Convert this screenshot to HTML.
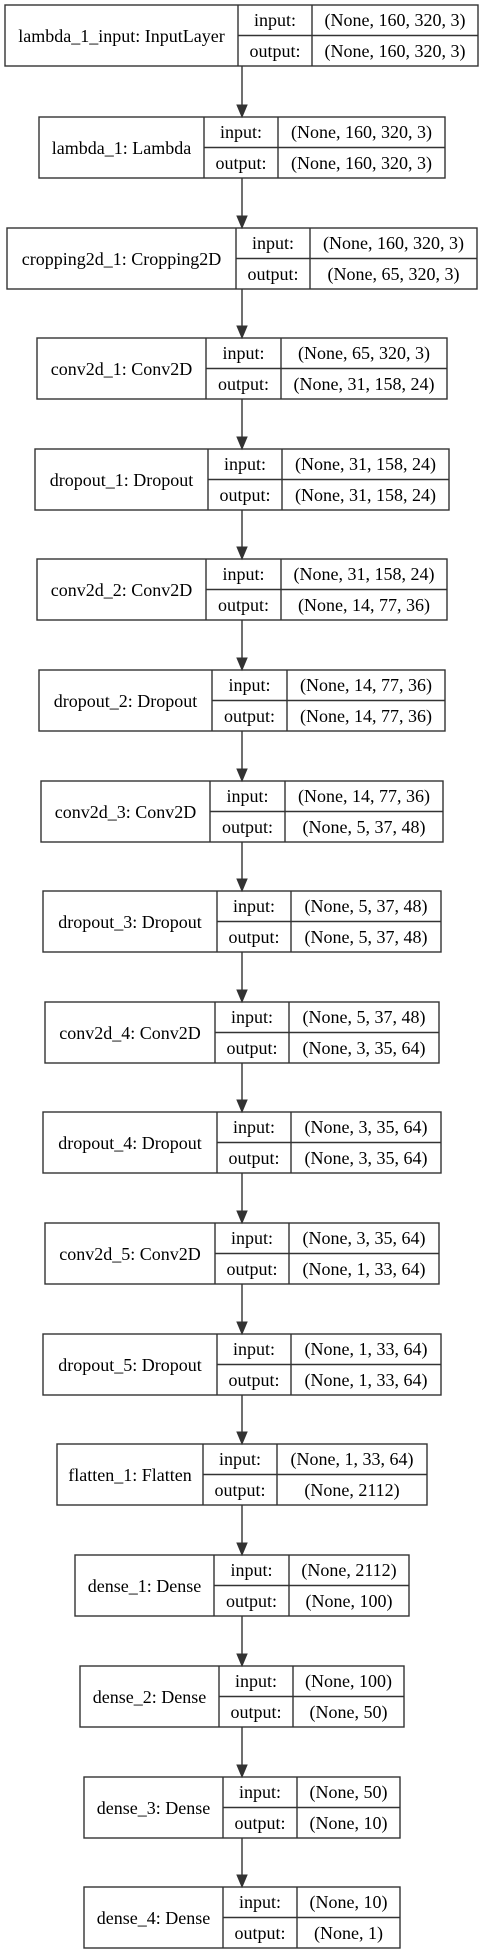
<!DOCTYPE html>
<html><head><meta charset="utf-8"><style>
html,body{margin:0;padding:0;background:#fff;}
svg{display:block;}
text{font-family:"Liberation Serif",serif;font-size:18px;fill:#000;}
.b{fill:#fff;stroke:#333;stroke-width:1.4;}
.l{stroke:#333;stroke-width:1.4;}
.a{fill:#333;stroke:#333;stroke-width:1;}
</style></head><body>
<svg width="484" height="1955" viewBox="0 0 484 1955" xmlns="http://www.w3.org/2000/svg">
<g text-anchor="middle" dominant-baseline="central">
<!-- 1 -->
<rect class="b" x="5" y="5" width="473" height="61"/><line class="l" x1="238" y1="5" x2="238" y2="66"/><line class="l" x1="312" y1="5" x2="312" y2="66"/><line class="l" x1="238" y1="35.5" x2="478" y2="35.5"/>
<text x="121.5" y="36">lambda_1_input: InputLayer</text><text x="275" y="20">input:</text><text x="275" y="51">output:</text><text x="395" y="20">(None, 160, 320, 3)</text><text x="395" y="51">(None, 160, 320, 3)</text>
<!-- 2 -->
<rect class="b" x="39" y="117" width="406" height="61"/><line class="l" x1="204" y1="117" x2="204" y2="178"/><line class="l" x1="278" y1="117" x2="278" y2="178"/><line class="l" x1="204" y1="147.5" x2="445" y2="147.5"/>
<text x="121.5" y="148">lambda_1: Lambda</text><text x="241" y="132">input:</text><text x="241" y="163">output:</text><text x="361.5" y="132">(None, 160, 320, 3)</text><text x="361.5" y="163">(None, 160, 320, 3)</text>
<!-- 3 -->
<rect class="b" x="7" y="228" width="470" height="61"/><line class="l" x1="236" y1="228" x2="236" y2="289"/><line class="l" x1="310" y1="228" x2="310" y2="289"/><line class="l" x1="236" y1="258.5" x2="477" y2="258.5"/>
<text x="121.5" y="259">cropping2d_1: Cropping2D</text><text x="273" y="243">input:</text><text x="273" y="274">output:</text><text x="393.5" y="243">(None, 160, 320, 3)</text><text x="393.5" y="274">(None, 65, 320, 3)</text>
<!-- 4 -->
<rect class="b" x="37" y="338" width="410" height="61"/><line class="l" x1="206" y1="338" x2="206" y2="399"/><line class="l" x1="281" y1="338" x2="281" y2="399"/><line class="l" x1="206" y1="368.5" x2="447" y2="368.5"/>
<text x="121.5" y="369">conv2d_1: Conv2D</text><text x="243.5" y="353">input:</text><text x="243.5" y="384">output:</text><text x="364" y="353">(None, 65, 320, 3)</text><text x="364" y="384">(None, 31, 158, 24)</text>
<!-- 5 -->
<rect class="b" x="35" y="449" width="414" height="61"/><line class="l" x1="208" y1="449" x2="208" y2="510"/><line class="l" x1="282" y1="449" x2="282" y2="510"/><line class="l" x1="208" y1="479.5" x2="449" y2="479.5"/>
<text x="121.5" y="480">dropout_1: Dropout</text><text x="245" y="464">input:</text><text x="245" y="495">output:</text><text x="365.5" y="464">(None, 31, 158, 24)</text><text x="365.5" y="495">(None, 31, 158, 24)</text>
<!-- 6 -->
<rect class="b" x="37" y="559" width="410" height="61"/><line class="l" x1="206" y1="559" x2="206" y2="620"/><line class="l" x1="281" y1="559" x2="281" y2="620"/><line class="l" x1="206" y1="589.5" x2="447" y2="589.5"/>
<text x="121.5" y="590">conv2d_2: Conv2D</text><text x="243.5" y="574">input:</text><text x="243.5" y="605">output:</text><text x="364" y="574">(None, 31, 158, 24)</text><text x="364" y="605">(None, 14, 77, 36)</text>
<!-- 7 -->
<rect class="b" x="39" y="670" width="406" height="61"/><line class="l" x1="212" y1="670" x2="212" y2="731"/><line class="l" x1="287" y1="670" x2="287" y2="731"/><line class="l" x1="212" y1="700.5" x2="445" y2="700.5"/>
<text x="125.5" y="701">dropout_2: Dropout</text><text x="249.5" y="685">input:</text><text x="249.5" y="716">output:</text><text x="366" y="685">(None, 14, 77, 36)</text><text x="366" y="716">(None, 14, 77, 36)</text>
<!-- 8 -->
<rect class="b" x="41" y="781" width="402" height="61"/><line class="l" x1="210" y1="781" x2="210" y2="842"/><line class="l" x1="285" y1="781" x2="285" y2="842"/><line class="l" x1="210" y1="811.5" x2="443" y2="811.5"/>
<text x="125.5" y="812">conv2d_3: Conv2D</text><text x="247.5" y="796">input:</text><text x="247.5" y="827">output:</text><text x="364" y="796">(None, 14, 77, 36)</text><text x="364" y="827">(None, 5, 37, 48)</text>
<!-- 9 -->
<rect class="b" x="43" y="891" width="398" height="61"/><line class="l" x1="217" y1="891" x2="217" y2="952"/><line class="l" x1="291" y1="891" x2="291" y2="952"/><line class="l" x1="217" y1="921.5" x2="441" y2="921.5"/>
<text x="130" y="922">dropout_3: Dropout</text><text x="254" y="906">input:</text><text x="254" y="937">output:</text><text x="366" y="906">(None, 5, 37, 48)</text><text x="366" y="937">(None, 5, 37, 48)</text>
<!-- 10 -->
<rect class="b" x="45" y="1002" width="394" height="61"/><line class="l" x1="215" y1="1002" x2="215" y2="1063"/><line class="l" x1="289" y1="1002" x2="289" y2="1063"/><line class="l" x1="215" y1="1032.5" x2="439" y2="1032.5"/>
<text x="130" y="1033">conv2d_4: Conv2D</text><text x="252" y="1017">input:</text><text x="252" y="1048">output:</text><text x="364" y="1017">(None, 5, 37, 48)</text><text x="364" y="1048">(None, 3, 35, 64)</text>
<!-- 11 -->
<rect class="b" x="43" y="1112" width="398" height="61"/><line class="l" x1="217" y1="1112" x2="217" y2="1173"/><line class="l" x1="291" y1="1112" x2="291" y2="1173"/><line class="l" x1="217" y1="1142.5" x2="441" y2="1142.5"/>
<text x="130" y="1143">dropout_4: Dropout</text><text x="254" y="1127">input:</text><text x="254" y="1158">output:</text><text x="366" y="1127">(None, 3, 35, 64)</text><text x="366" y="1158">(None, 3, 35, 64)</text>
<!-- 12 -->
<rect class="b" x="45" y="1223" width="394" height="61"/><line class="l" x1="215" y1="1223" x2="215" y2="1284"/><line class="l" x1="289" y1="1223" x2="289" y2="1284"/><line class="l" x1="215" y1="1253.5" x2="439" y2="1253.5"/>
<text x="130" y="1254">conv2d_5: Conv2D</text><text x="252" y="1238">input:</text><text x="252" y="1269">output:</text><text x="364" y="1238">(None, 3, 35, 64)</text><text x="364" y="1269">(None, 1, 33, 64)</text>
<!-- 13 -->
<rect class="b" x="43" y="1334" width="398" height="61"/><line class="l" x1="217" y1="1334" x2="217" y2="1395"/><line class="l" x1="291" y1="1334" x2="291" y2="1395"/><line class="l" x1="217" y1="1364.5" x2="441" y2="1364.5"/>
<text x="130" y="1365">dropout_5: Dropout</text><text x="254" y="1349">input:</text><text x="254" y="1380">output:</text><text x="366" y="1349">(None, 1, 33, 64)</text><text x="366" y="1380">(None, 1, 33, 64)</text>
<!-- 14 -->
<rect class="b" x="57" y="1444" width="370" height="61"/><line class="l" x1="203" y1="1444" x2="203" y2="1505"/><line class="l" x1="277" y1="1444" x2="277" y2="1505"/><line class="l" x1="203" y1="1474.5" x2="427" y2="1474.5"/>
<text x="130" y="1475">flatten_1: Flatten</text><text x="240" y="1459">input:</text><text x="240" y="1490">output:</text><text x="352" y="1459">(None, 1, 33, 64)</text><text x="352" y="1490">(None, 2112)</text>
<!-- 15 -->
<rect class="b" x="75" y="1555" width="334" height="61"/><line class="l" x1="214" y1="1555" x2="214" y2="1616"/><line class="l" x1="289" y1="1555" x2="289" y2="1616"/><line class="l" x1="214" y1="1585.5" x2="409" y2="1585.5"/>
<text x="144.5" y="1586">dense_1: Dense</text><text x="251.5" y="1570">input:</text><text x="251.5" y="1601">output:</text><text x="349" y="1570">(None, 2112)</text><text x="349" y="1601">(None, 100)</text>
<!-- 16 -->
<rect class="b" x="80" y="1666" width="324" height="61"/><line class="l" x1="219" y1="1666" x2="219" y2="1727"/><line class="l" x1="293" y1="1666" x2="293" y2="1727"/><line class="l" x1="219" y1="1696.5" x2="404" y2="1696.5"/>
<text x="149.5" y="1697">dense_2: Dense</text><text x="256" y="1681">input:</text><text x="256" y="1712">output:</text><text x="348.5" y="1681">(None, 100)</text><text x="348.5" y="1712">(None, 50)</text>
<!-- 17 -->
<rect class="b" x="84" y="1777" width="316" height="61"/><line class="l" x1="223" y1="1777" x2="223" y2="1838"/><line class="l" x1="297" y1="1777" x2="297" y2="1838"/><line class="l" x1="223" y1="1807.5" x2="400" y2="1807.5"/>
<text x="153.5" y="1808">dense_3: Dense</text><text x="260" y="1792">input:</text><text x="260" y="1823">output:</text><text x="348.5" y="1792">(None, 50)</text><text x="348.5" y="1823">(None, 10)</text>
<!-- 18 -->
<rect class="b" x="84" y="1887" width="316" height="61"/><line class="l" x1="223" y1="1887" x2="223" y2="1948"/><line class="l" x1="297" y1="1887" x2="297" y2="1948"/><line class="l" x1="223" y1="1917.5" x2="400" y2="1917.5"/>
<text x="153.5" y="1918">dense_4: Dense</text><text x="260" y="1902">input:</text><text x="260" y="1933">output:</text><text x="348.5" y="1902">(None, 10)</text><text x="348.5" y="1933">(None, 1)</text>
</g>
<!-- arrows -->
<g>
<line class="l" x1="242" y1="66" x2="242" y2="106"/><polygon class="a" points="237,105 247,105 242,117"/>
<line class="l" x1="242" y1="178" x2="242" y2="217"/><polygon class="a" points="237,216 247,216 242,228"/>
<line class="l" x1="242" y1="289" x2="242" y2="327"/><polygon class="a" points="237,326 247,326 242,338"/>
<line class="l" x1="242" y1="399" x2="242" y2="438"/><polygon class="a" points="237,437 247,437 242,449"/>
<line class="l" x1="242" y1="510" x2="242" y2="548"/><polygon class="a" points="237,547 247,547 242,559"/>
<line class="l" x1="242" y1="620" x2="242" y2="659"/><polygon class="a" points="237,658 247,658 242,670"/>
<line class="l" x1="242" y1="731" x2="242" y2="770"/><polygon class="a" points="237,769 247,769 242,781"/>
<line class="l" x1="242" y1="842" x2="242" y2="880"/><polygon class="a" points="237,879 247,879 242,891"/>
<line class="l" x1="242" y1="952" x2="242" y2="991"/><polygon class="a" points="237,990 247,990 242,1002"/>
<line class="l" x1="242" y1="1063" x2="242" y2="1101"/><polygon class="a" points="237,1100 247,1100 242,1112"/>
<line class="l" x1="242" y1="1173" x2="242" y2="1212"/><polygon class="a" points="237,1211 247,1211 242,1223"/>
<line class="l" x1="242" y1="1284" x2="242" y2="1323"/><polygon class="a" points="237,1322 247,1322 242,1334"/>
<line class="l" x1="242" y1="1395" x2="242" y2="1433"/><polygon class="a" points="237,1432 247,1432 242,1444"/>
<line class="l" x1="242" y1="1505" x2="242" y2="1544"/><polygon class="a" points="237,1543 247,1543 242,1555"/>
<line class="l" x1="242" y1="1616" x2="242" y2="1655"/><polygon class="a" points="237,1654 247,1654 242,1666"/>
<line class="l" x1="242" y1="1727" x2="242" y2="1766"/><polygon class="a" points="237,1765 247,1765 242,1777"/>
<line class="l" x1="242" y1="1838" x2="242" y2="1876"/><polygon class="a" points="237,1875 247,1875 242,1887"/>
</g>
</svg>
</body></html>
